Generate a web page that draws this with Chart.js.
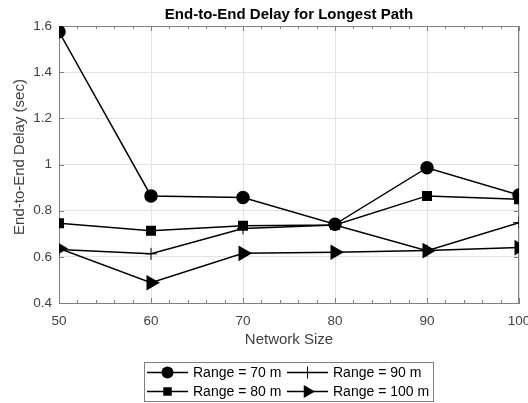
<!DOCTYPE html>
<html>
<head>
<meta charset="utf-8">
<script src="https://cdn.jsdelivr.net/npm/chart.js@4/dist/chart.umd.min.js"></script>
<style>
  html, body { margin: 0; padding: 0; background: #fff; }
  #wrap { width: 528px; height: 403px; }
</style>
</head>
<body>
<div id="wrap"><canvas id="chartDelay" width="528" height="403"></canvas></div>
<script>
// data
const networkSize = [50, 60, 70, 80, 90, 100];
const range70 = [1.575, 0.864, 0.857, 0.741, 0.986, 0.868];
const range80 = [0.745, 0.713, 0.735, 0.738, 0.864, 0.849];
const range90 = [0.632, 0.613, 0.723, 0.738, 0.627, 0.748];
const range100 = [0.636, 0.488, 0.615, 0.620, 0.627, 0.640];
const seriesLabels = ['Range = 70 m', 'Range = 80 m', 'Range = 90 m', 'Range = 100 m'];
const yTickLabels = ['0.4', '0.6', '0.8', '1', '1.2', '1.4', '1.6'];
const xTickLabels = ['50', '60', '70', '80', '90', '100'];

const FONT = "'Liberation Sans', Arial, Helvetica, sans-serif";
const AXIS = '#808080';
const TEXT = '#404040';

const markers = [
    { pointStyle: 'circle', radius: 6, rotation: 0, width: 1.5 },
    { pointStyle: 'rect', radius: 6, rotation: 0, width: 1.5 },
    { pointStyle: 'cross', radius: 6, rotation: 0, width: 1 },
    { pointStyle: 'triangle', radius: 7.5, rotation: 90, width: 1.5 }
];

function makeSet(label, values, m) {
    return {
        label: label,
        data: networkSize.map((x, i) => ({ x: x, y: values[i] })),
        borderColor: '#000',
        backgroundColor: '#000',
        borderWidth: 1.5,
        pointStyle: m.pointStyle,
        pointRadius: m.radius,
        pointRotation: m.rotation,
        pointBorderWidth: m.width,
        pointBorderColor: '#000',
        pointBackgroundColor: '#000',
        tension: 0
    };
}

// marker used inside the legend box
function drawMarker(ctx, m, x, y) {
    ctx.save();
    ctx.fillStyle = '#000';
    ctx.strokeStyle = '#000';
    ctx.lineWidth = m.width;
    ctx.beginPath();
    if (m.pointStyle === 'circle') {
        ctx.arc(x, y, m.radius, 0, Math.PI * 2);
        ctx.fill();
    } else if (m.pointStyle === 'rect') {
        const s = Math.SQRT1_2 * m.radius;
        ctx.rect(x - s, y - s, 2 * s, 2 * s);
        ctx.fill();
    } else if (m.pointStyle === 'cross') {
        ctx.moveTo(x - m.radius, y); ctx.lineTo(x + m.radius, y);
        ctx.moveTo(x, y - m.radius); ctx.lineTo(x, y + m.radius);
        ctx.stroke();
    } else {
        let a = m.rotation * Math.PI / 180;
        ctx.moveTo(x + Math.sin(a) * m.radius, y - Math.cos(a) * m.radius);
        a += Math.PI * 2 / 3;
        ctx.lineTo(x + Math.sin(a) * m.radius, y - Math.cos(a) * m.radius);
        a += Math.PI * 2 / 3;
        ctx.lineTo(x + Math.sin(a) * m.radius, y - Math.cos(a) * m.radius);
        ctx.closePath();
        ctx.fill();
    }
    ctx.restore();
}

// box, inner ticks, titles and legend in matlab style
const matlabFrame = {
    id: 'matlabFrame',
    beforeDatasetsDraw(chart) {
        const { ctx, chartArea: a, scales } = chart;
        ctx.save();
        ctx.strokeStyle = AXIS;
        ctx.lineWidth = 1;
        ctx.beginPath();
        ctx.moveTo(a.left, a.top + 0.5); ctx.lineTo(a.right, a.top + 0.5);
        ctx.moveTo(a.right - 0.5, a.top); ctx.lineTo(a.right - 0.5, a.bottom);
        for (let v = 50; v <= 100; v += 2) {
            const x = Math.round(scales.x.getPixelForValue(v)) + 0.5;
            const len = v % 10 === 0 ? 5 : 3;
            ctx.moveTo(x, a.bottom); ctx.lineTo(x, a.bottom - len);
            ctx.moveTo(x, a.top); ctx.lineTo(x, a.top + len);
        }
        yTickLabels.forEach(t => {
            const y = Math.round(scales.y.getPixelForValue(parseFloat(t))) + 0.5;
            ctx.moveTo(a.left, y); ctx.lineTo(a.left + 5, y);
            ctx.moveTo(a.right, y); ctx.lineTo(a.right - 5, y);
        });
        ctx.stroke();
        ctx.restore();
    },
    afterDraw(chart) {
        const { ctx, chartArea: a } = chart;
        ctx.save();
        ctx.fillStyle = '#000';
        ctx.font = 'bold 15px ' + FONT;
        ctx.textAlign = 'center';
        ctx.textBaseline = 'middle';
        ctx.fillText('End-to-End Delay for Longest Path', (a.left + a.right) / 2, 15);

        // y axis title
        ctx.save();
        ctx.translate(20, 157);
        ctx.rotate(-Math.PI / 2);
        ctx.fillStyle = TEXT;
        ctx.font = '15px ' + FONT;
        ctx.fillText('End-to-End Delay (sec)', 0, 0);
        ctx.restore();

        // legend box
        const bx = 144, by = 362, bw = 289, bh = 39;
        ctx.fillStyle = '#fff';
        ctx.fillRect(bx, by, bw, bh);
        ctx.strokeStyle = AXIS;
        ctx.lineWidth = 1;
        ctx.strokeRect(bx + 0.5, by + 0.5, bw, bh);

        const cols = [147, 287];
        const rows = [372.5, 391.5];
        const order = [[0, 0], [1, 0], [0, 1], [1, 1]]; // [row, col] per series
        ctx.font = '14px ' + FONT;
        ctx.textAlign = 'left';
        order.forEach((rc, i) => {
            const x0 = cols[rc[1]], y = rows[rc[0]];
            ctx.strokeStyle = '#000';
            ctx.lineWidth = 1.5;
            ctx.beginPath();
            ctx.moveTo(x0, y); ctx.lineTo(x0 + 41, y);
            ctx.stroke();
            drawMarker(ctx, markers[i], x0 + 20.5, y);
            ctx.fillStyle = '#000';
            ctx.fillText(seriesLabels[i], x0 + 46, y + 1);
        });
        ctx.restore();
    }
};

const ctx = document.getElementById('chartDelay').getContext('2d');
const chart = new Chart(ctx, {
    type: 'line',
    data: {
        datasets: [
            makeSet(seriesLabels[0], range70, markers[0]),
            makeSet(seriesLabels[1], range80, markers[1]),
            makeSet(seriesLabels[2], range90, markers[2]),
            makeSet(seriesLabels[3], range100, markers[3])
        ]
    },
    options: {
        responsive: false,
        animation: false,
        layout: { padding: { top: 26, right: 9, bottom: 53, left: 0 } },
        plugins: {
            legend: { display: false },
            title: { display: false },
            tooltip: { enabled: false }
        },
        scales: {
            x: {
                type: 'linear',
                min: 50,
                max: 100,
                afterFit(s) { s.height = 47; s.paddingLeft = 0; s.paddingRight = 0; },
                afterBuildTicks(s) { s.ticks = xTickLabels.map(t => ({ value: Number(t) })); },
                ticks: {
                    color: TEXT,
                    font: { family: FONT, size: 13.5 },
                    padding: 10,
                    maxRotation: 0,
                    callback: (v) => xTickLabels[xTickLabels.indexOf(String(v))]
                },
                grid: { color: '#e3e3e3', drawTicks: false },
                border: { color: AXIS },
                title: {
                    display: true,
                    text: 'Network Size',
                    color: TEXT,
                    font: { family: FONT, size: 15 },
                    padding: { top: 0, bottom: 1 }
                }
            },
            y: {
                min: 0.4,
                max: 1.6,
                afterFit(s) { s.width = 59; s.paddingTop = 0; s.paddingBottom = 0; },
                afterBuildTicks(s) { s.ticks = yTickLabels.map(t => ({ value: parseFloat(t) })); },
                ticks: {
                    color: TEXT,
                    font: { family: FONT, size: 13.5 },
                    padding: 7,
                    callback: (v, i) => yTickLabels[i]
                },
                grid: { color: '#e3e3e3', drawTicks: false },
                border: { color: AXIS }
            }
        }
    },
    plugins: [matlabFrame]
});
</script>
</body>
</html>
